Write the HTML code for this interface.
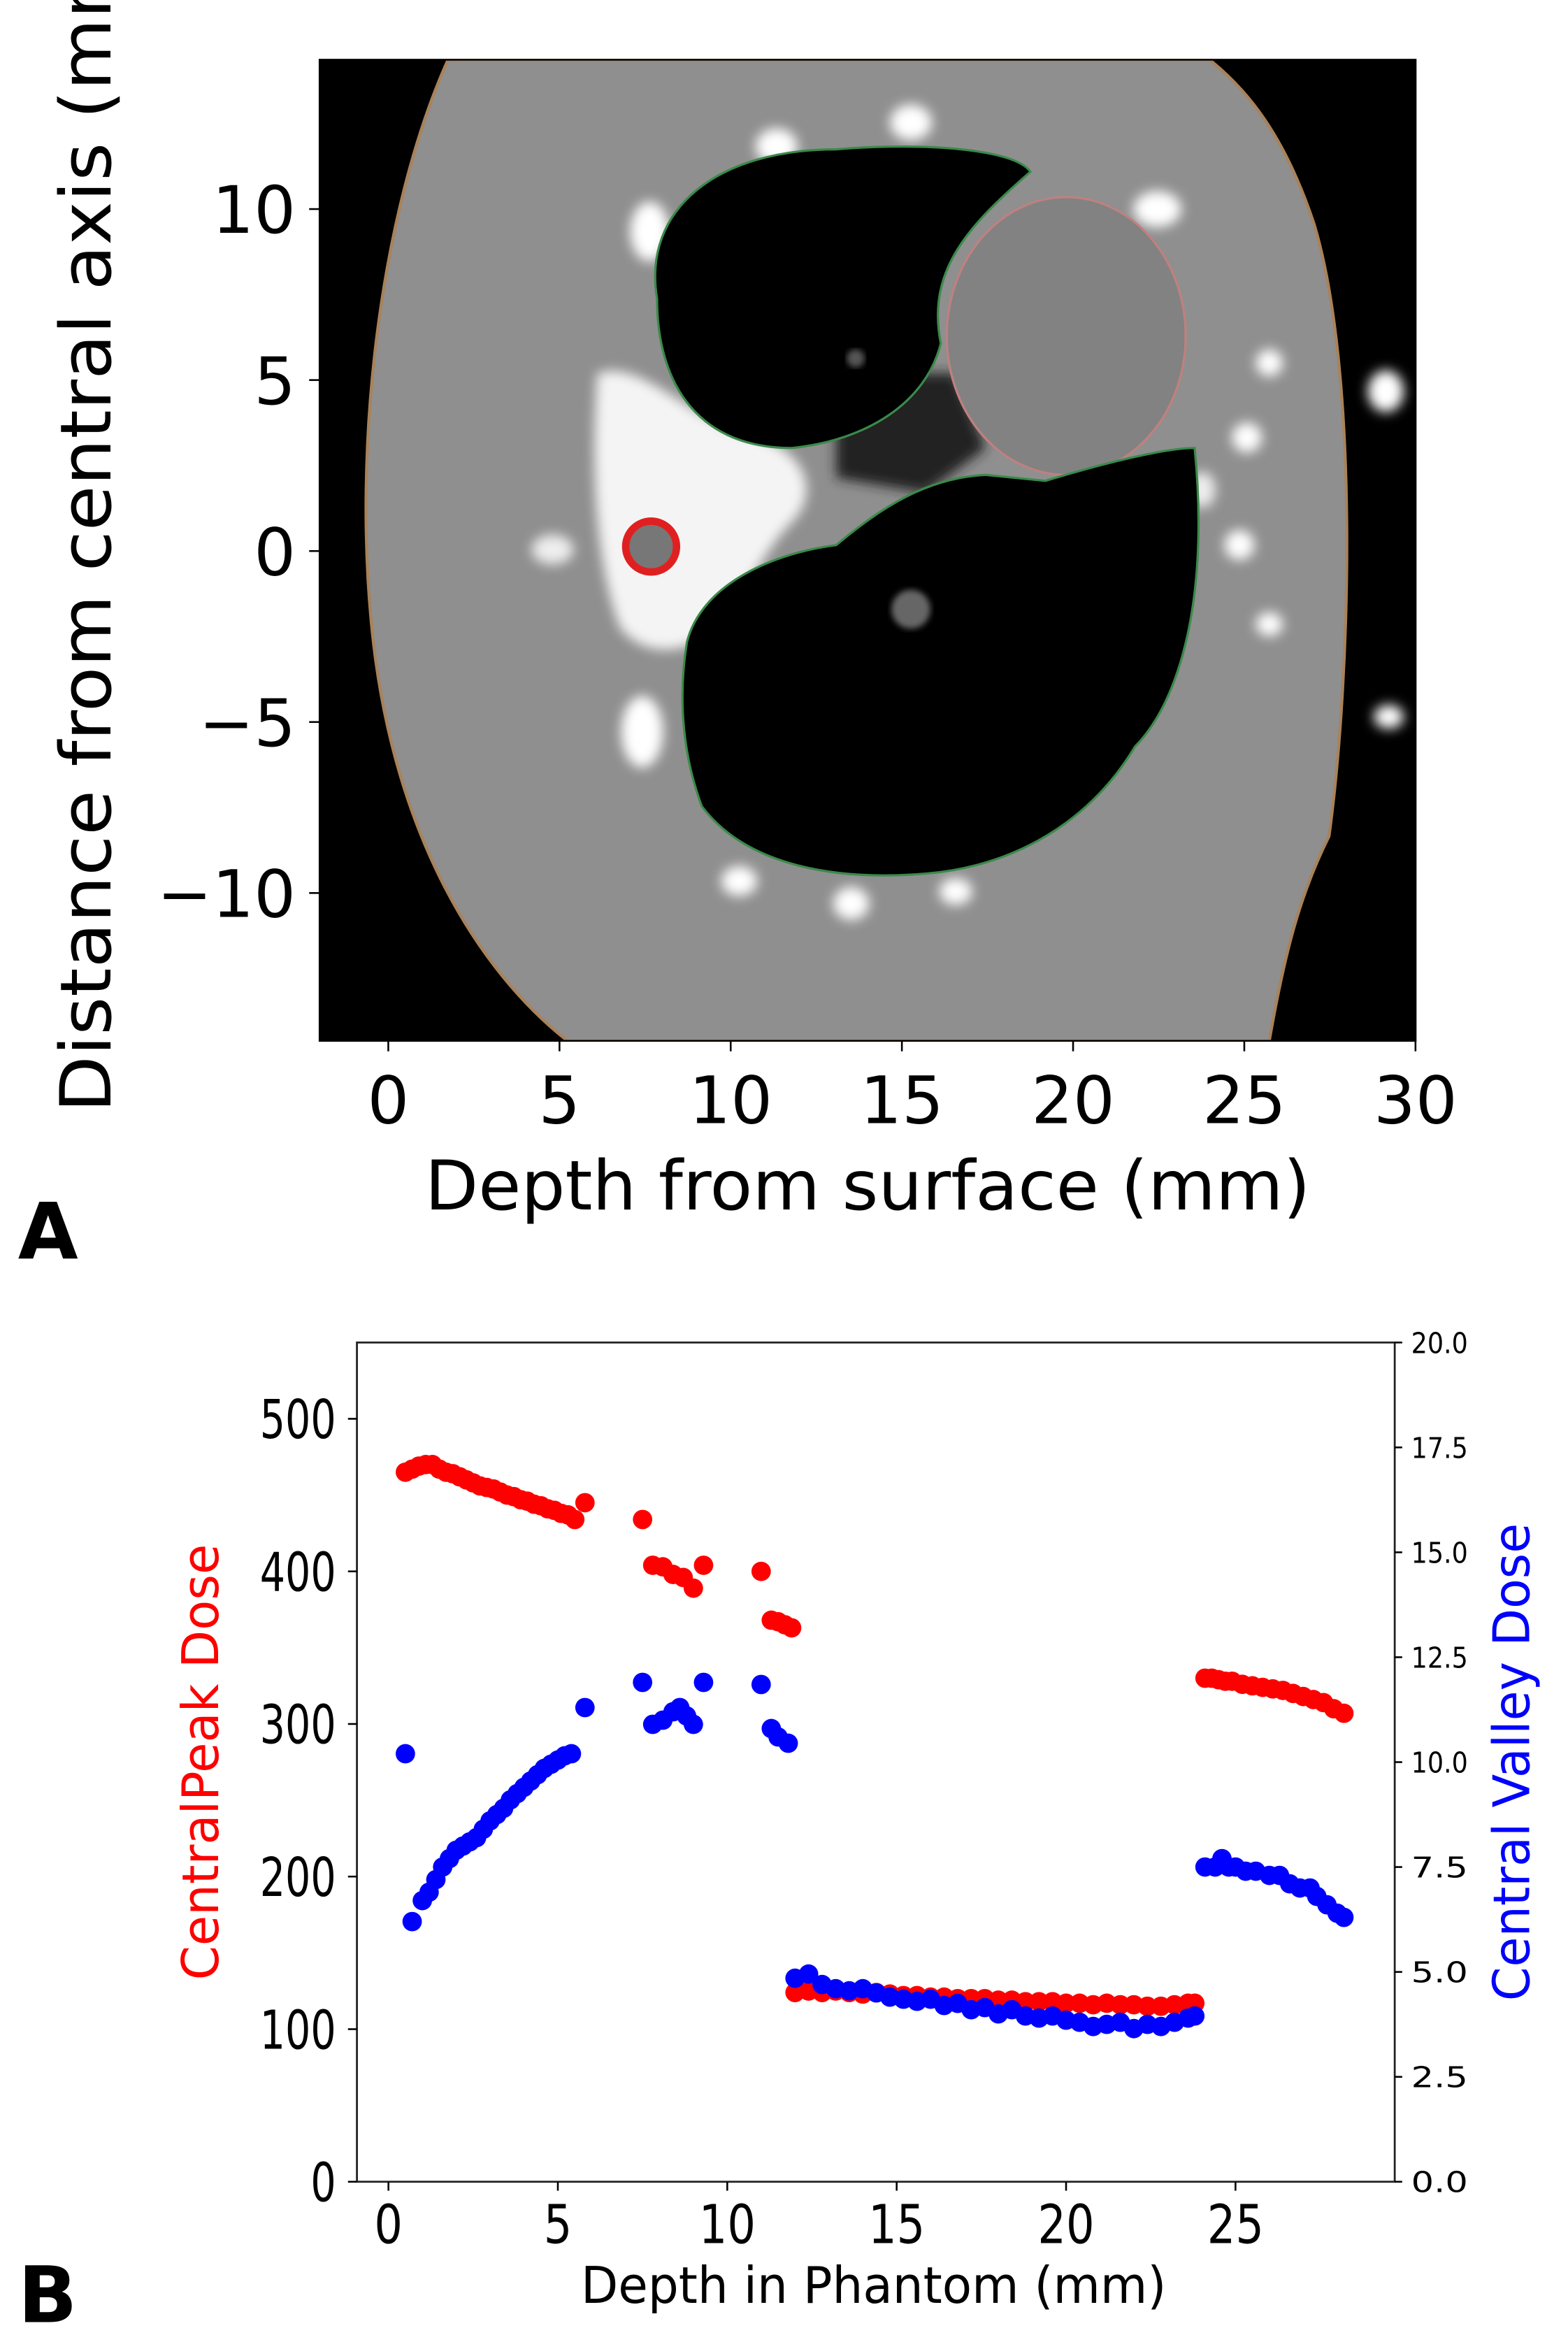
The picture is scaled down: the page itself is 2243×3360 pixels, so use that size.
<!DOCTYPE html>
<html><head><meta charset="utf-8"><style>
html,body{margin:0;padding:0;background:#fff;}
svg{display:block;}
text{font-family:"DejaVu Sans","Liberation Sans",sans-serif;}
</style></head><body>
<svg id="fig" width="2243" height="3360" viewBox="0 0 1050 1573" xmlns="http://www.w3.org/2000/svg">
<defs>
<filter id="blur" x="-10%" y="-10%" width="120%" height="120%"><feGaussianBlur stdDeviation="4"/></filter>
<filter id="blur2"><feGaussianBlur stdDeviation="2"/></filter>
<clipPath id="clipA"><rect x="214" y="40" width="734" height="657"/></clipPath>
</defs>

<!-- Panel A -->
<g>
<rect x="214" y="40" width="734" height="657" fill="#000"/>
<g clip-path="url(#clipA)">
  <path d="M300 40 C255 140 235 300 250 430 C265 560 320 650 380 697 L850 697 C860 640 870 600 890 560 C905 450 910 250 880 150 C860 90 835 60 810 40 Z" fill="#8f8f8f" stroke="#a8825a" stroke-width="2"/>
  <g filter="url(#blur)">
    <path d="M400 250 C430 240 460 280 500 290 C540 300 550 330 530 350 C510 370 500 400 480 420 C460 440 430 440 415 420 C400 380 395 320 400 250 Z" fill="#f4f4f4"/>
    <ellipse cx="435" cy="155" rx="13" ry="20" fill="#fff"/>
    <ellipse cx="520" cy="98" rx="14" ry="12" fill="#fff"/>
    <ellipse cx="610" cy="82" rx="14" ry="12" fill="#fff"/>
    <ellipse cx="775" cy="140" rx="16" ry="12" fill="#fff"/>
    <ellipse cx="850" cy="243" rx="9" ry="9" fill="#fff"/>
    <ellipse cx="835" cy="293" rx="10" ry="10" fill="#fff"/>
    <ellipse cx="805" cy="328" rx="9" ry="12" fill="#eee"/>
    <ellipse cx="830" cy="365" rx="10" ry="10" fill="#fff"/>
    <ellipse cx="850" cy="418" rx="9" ry="8" fill="#fff"/>
    <ellipse cx="370" cy="368" rx="14" ry="10" fill="#eee"/>
    <ellipse cx="430" cy="490" rx="14" ry="24" fill="#fff"/>
    <ellipse cx="495" cy="590" rx="12" ry="10" fill="#fff"/>
    <ellipse cx="570" cy="605" rx="12" ry="11" fill="#fff"/>
    <ellipse cx="640" cy="597" rx="11" ry="9" fill="#fff"/>
    <ellipse cx="928" cy="262" rx="12" ry="14" fill="#fff"/>
    <ellipse cx="930" cy="480" rx="10" ry="8" fill="#fff"/>
    <path d="M560 250 L640 250 L660 300 L620 330 L560 320 Z" fill="#222"/>
  </g>
  <ellipse cx="714" cy="225" rx="80" ry="93" fill="#828282" stroke="#c08080" stroke-width="1.5"/>
  <path d="M440 200 C430 140 480 100 560 100 C620 95 680 100 690 115 C650 150 620 180 630 230 C620 270 580 295 530 300 C470 300 440 260 440 200 Z" fill="#000" stroke="#3a8a4a" stroke-width="1.5"/>
  <path d="M460 430 C470 390 520 370 560 365 C590 340 620 320 660 318 L700 322 C740 310 780 300 800 300 C810 400 790 470 760 500 C730 550 680 580 620 585 C560 590 500 580 470 540 C455 500 455 460 460 430 Z" fill="#000" stroke="#3a8a4a" stroke-width="1.5"/>
  <circle cx="610" cy="408" r="13" fill="#666" filter="url(#blur2)"/>
  <circle cx="573" cy="240" r="6" fill="#555" filter="url(#blur2)"/>
  <circle cx="436" cy="366" r="17" fill="#777" stroke="#e02020" stroke-width="5"/>
</g>
<rect x="214" y="40" width="734" height="657" fill="none" stroke="#000" stroke-width="1.2"/>
<g id="axA" font-size="46" fill="#000"></g>
<text x="581" y="810" font-size="46" text-anchor="middle" textLength="593" lengthAdjust="spacingAndGlyphs">Depth from surface (mm)</text>
<text transform="translate(74,745) rotate(-90)" font-size="47" text-anchor="start" textLength="800" lengthAdjust="spacingAndGlyphs">Distance from central axis (mm)</text>
<text x="12" y="843" font-size="52" font-weight="bold" font-family="Liberation Sans, sans-serif">A</text>
</g>

<!-- Panel B -->
<g>
<rect x="239" y="899" width="695" height="562" fill="#fff" stroke="#222" stroke-width="1.3"/>
<g id="axB"></g>
<g id="marksB"></g>
<text x="585" y="1542" font-size="34" text-anchor="middle" textLength="392" lengthAdjust="spacingAndGlyphs">Depth in Phantom (mm)</text>
<text transform="translate(146,1180) rotate(-90)" font-size="34" fill="#ff0000" text-anchor="middle" textLength="292" lengthAdjust="spacingAndGlyphs">CentralPeak Dose</text>
<text transform="translate(1024,1180) rotate(-90)" font-size="34" fill="#0000ff" text-anchor="middle" textLength="320" lengthAdjust="spacingAndGlyphs">Central Valley Dose</text>
<text x="12" y="1555" font-size="52" font-weight="bold" font-family="Liberation Sans, sans-serif">B</text>
</g>
</svg>
<script>
// Panel A axes
const aXTicks=[0,5,10,15,20,25,30];
const aYTicks=[10,5,0,-5,-10];
// Panel B data
const bXTicks=[0,5,10,15,20,25];
const bLeftTicks=[0,100,200,300,400,500];
const bRightTicks=[0,2.5,5,7.5,10,12.5,15,17.5,20];
const peakX=[0.5,0.7,0.9,1.1,1.3,1.5,1.7,1.9,2.1,2.3,2.5,2.7,2.9,3.1,3.3,3.5,3.7,3.9,4.1,4.3,4.5,4.7,4.9,5.1,5.3,5.5,5.8,
7.5,7.8,8.1,8.4,8.7,9.0,9.3,11.0,11.3,11.5,11.7,11.9,
12.0,12.4,12.8,13.2,13.6,14.0,14.4,14.8,15.2,15.6,16.0,16.4,16.8,17.2,17.6,18.0,18.4,18.8,19.2,19.6,20.0,20.4,20.8,21.2,21.6,22.0,22.4,22.8,23.2,23.6,23.8,
24.1,24.3,24.5,24.7,24.9,25.2,25.5,25.8,26.1,26.4,26.7,27.0,27.3,27.6,27.9,28.2];
const peakY=[465,467,469,470,470,467,465,464,462,460,458,456,455,454,452,450,449,447,446,444,443,441,440,438,437,434,445,
434,404,403,398,396,389,404,400,368,367,365,363,
124,125,124,125,124,123,124,123,122,122,121,121,120,120,120,119,119,118,118,118,117,117,116,117,116,116,115,115,116,117,117,
330,330,329,328,328,326,325,324,323,322,320,318,316,314,310,307];
const valleyX=[0.5,0.7,1.0,1.2,1.4,1.6,1.8,2.0,2.2,2.4,2.6,2.8,3.0,3.2,3.4,3.6,3.8,4.0,4.2,4.4,4.6,4.8,5.0,5.2,5.4,5.8,
7.5,7.8,8.1,8.4,8.6,8.8,9.0,9.3,11.0,11.3,11.5,11.8,
12.0,12.4,12.8,13.2,13.6,14.0,14.4,14.8,15.2,15.6,16.0,16.4,16.8,17.2,17.6,18.0,18.4,18.8,19.2,19.6,20.0,20.4,20.8,21.2,21.6,22.0,22.4,22.8,23.2,23.6,23.8,
24.1,24.4,24.6,24.8,25.0,25.3,25.6,26.0,26.3,26.6,26.9,27.2,27.4,27.7,28.0,28.2];
const valleyY=[10.2,6.2,6.7,6.9,7.2,7.5,7.7,7.9,8.0,8.1,8.2,8.4,8.6,8.75,8.9,9.1,9.25,9.4,9.55,9.7,9.85,9.95,10.05,10.15,10.2,11.3,
11.9,10.9,11.0,11.2,11.3,11.1,10.9,11.9,11.85,10.8,10.6,10.45,
4.85,4.95,4.7,4.6,4.55,4.6,4.5,4.4,4.35,4.3,4.35,4.2,4.25,4.1,4.15,4.0,4.1,3.95,3.9,3.95,3.85,3.8,3.7,3.75,3.8,3.65,3.75,3.7,3.8,3.9,3.95,
7.5,7.5,7.7,7.5,7.5,7.4,7.4,7.3,7.3,7.1,7.0,7.0,6.8,6.6,6.4,6.3];

const NS='http://www.w3.org/2000/svg';
function mk(tag,attrs,parent){const e=document.createElementNS(NS,tag);for(const k in attrs)e.setAttribute(k,attrs[k]);parent.appendChild(e);return e;}

// Panel A scales
const axA=document.getElementById('axA');
const axXa=v=>260+v*22.93;
const axYa=v=>369-v*22.9;
aXTicks.forEach(t=>{
  const l=mk('line',{x1:axXa(t),x2:axXa(t),y1:697,y2:704,stroke:'#000','stroke-width':1.2},axA);
  
  
  const tx=mk('text',{x:axXa(t),y:752,'text-anchor':'middle','font-size':44},axA);
  
  
  tx.textContent=String(t);
});
aYTicks.forEach(t=>{
  const l=mk('line',{x1:207,x2:214,y1:axYa(t),y2:axYa(t),stroke:'#000','stroke-width':1.2},axA);
  
  
  const tx=mk('text',{x:198,y:axYa(t)+16,'text-anchor':'end','font-size':44},axA);
  
  
  tx.textContent=t<0?'\u2212'+Math.abs(t):String(t);
});

// Panel B scales
const L=239,R=934,T=899,B=1461;
const xS=v=>L+(v+0.93)/(29.7+0.93)*(R-L);
const yL=v=>B-v/550*(B-T);
const yR=v=>B-v/20*(B-T);
const axB=document.getElementById('axB');
bXTicks.forEach(t=>{
  const l=mk('line',{x1:xS(t),x2:xS(t),y1:B,y2:B+6,stroke:'#000','stroke-width':1.2},axB);
  
  
  const tx=mk('text',{x:xS(t),y:B+41,'text-anchor':'middle','font-size':36,textLength:String(t).length*19,lengthAdjust:'spacingAndGlyphs'},axB);
  
  
  tx.textContent=String(t);
});
bLeftTicks.forEach(t=>{
  const l=mk('line',{x1:L-6,x2:L,y1:yL(t),y2:yL(t),stroke:'#000','stroke-width':1.2},axB);
  
  
  const tx=mk('text',{x:L-14,y:yL(t)+13,'text-anchor':'end','font-size':36,textLength:String(t).length*17,lengthAdjust:'spacingAndGlyphs'},axB);
  
  
  tx.textContent=String(t);
});
bRightTicks.forEach(t=>{
  const l=mk('line',{x1:R,x2:R+5,y1:yR(t),y2:yR(t),stroke:'#000','stroke-width':1.2},axB);
  
  
  const tx=mk('text',{x:R+11,y:yR(t)+7,'text-anchor':'start','font-size':19,textLength:38,lengthAdjust:'spacingAndGlyphs'},axB);
  
  
  tx.textContent=t.toFixed(1);
});
const marks=document.getElementById('marksB');
peakX.forEach((x,i)=>{
  const c=mk('circle',{cx:xS(x),cy:yL(peakY[i]),r:6.5,fill:'#ff0000'},marks);
  
  
});
valleyX.forEach((x,i)=>{
  const c=mk('circle',{cx:xS(x),cy:yR(valleyY[i]),r:6.5,fill:'#0000ff'},marks);
  
  
});
</script>
</body></html>
